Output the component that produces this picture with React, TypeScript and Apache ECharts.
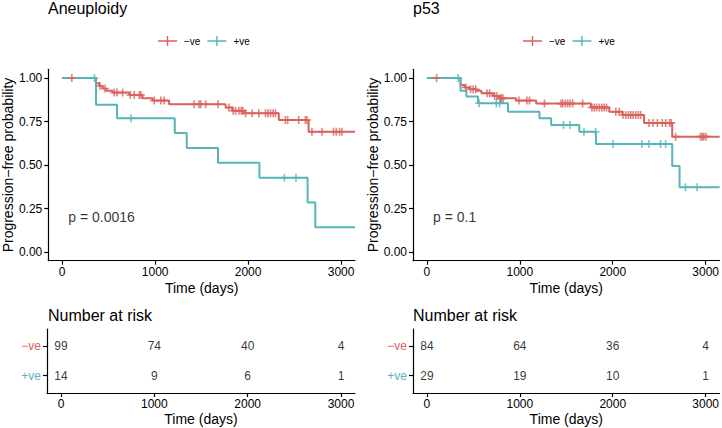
import React, { useEffect, useRef } from "react";
import * as echarts from "echarts";

// ---------- data ----------
const PANEL_TITLES = ["Aneuploidy", "p53"];
const GROUPS = ["−ve", "+ve"];
const P_VALUES = ["p = 0.0016", "p = 0.1"];

// Aneuploidy, -ve
const aneuNegTimes = [0, 364, 400, 436, 472, 543, 722, 865, 972, 1150, 1758, 1830, 1954, 2330, 2651];
const aneuNegSurv = [1, 0.97, 0.954, 0.94, 0.927, 0.916, 0.902, 0.883, 0.87, 0.849, 0.83, 0.812, 0.797, 0.759, 0.691];
const aneuNegCensor = [104, 405, 461, 561, 590, 650, 732, 775, 829, 847, 990, 1061, 1097, 1418, 1472, 1490, 1544, 1676, 1794, 1840, 1865, 1901, 1926, 1944, 1972, 2044, 2115, 2187, 2212, 2241, 2270, 2294, 2401, 2426, 2544, 2616, 2634, 2687, 2795, 2919, 2948, 2984, 3009];
// Aneuploidy, +ve
const aneuPosTimes = [0, 364, 590, 1211, 1340, 1676, 2122, 2640, 2723];
const aneuPosSurv = [1, 0.846, 0.769, 0.684, 0.598, 0.513, 0.427, 0.285, 0.142];
const aneuPosCensor = [347, 740, 2390, 2515];

// p53, -ve
const p53NegTimes = [0, 361, 407, 461, 532, 586, 711, 783, 961, 1175, 1765, 1962, 2104, 2337, 2640];
const p53NegSurv = [1, 0.96, 0.946, 0.935, 0.927, 0.912, 0.897, 0.883, 0.87, 0.853, 0.831, 0.806, 0.787, 0.742, 0.663];
const p53NegCensor = [104, 418, 470, 497, 525, 647, 675, 729, 754, 790, 801, 818, 990, 1076, 1104, 1265, 1444, 1462, 1490, 1515, 1540, 1569, 1676, 1776, 1801, 1826, 1855, 1883, 1908, 1933, 2033, 2069, 2110, 2140, 2169, 2194, 2219, 2248, 2276, 2301, 2391, 2433, 2480, 2533, 2570, 2612, 2630, 2677, 2945, 2962, 2980, 3005];
// p53, +ve
const p53PosTimes = [0, 361, 425, 550, 872, 1211, 1337, 1640, 1819, 2640, 2719];
const p53PosSurv = [1, 0.927, 0.893, 0.855, 0.806, 0.768, 0.73, 0.691, 0.62, 0.494, 0.372];
const p53PosCensor = [336, 561, 747, 783, 1470, 1540, 1690, 1815, 2004, 2312, 2390, 2515, 2569, 2783, 2908];

// number at risk
const riskTimes = [0, 1000, 2000, 3000];
const aneuNegRisk = [99, 74, 40, 4];
const aneuPosRisk = [14, 9, 6, 1];
const p53NegRisk = [84, 64, 36, 4];
const p53PosRisk = [29, 19, 10, 1];

// axis ticks
const xTicks = [0, 1000, 2000, 3000];
const yTicks = [0, 0.25, 0.5, 0.75, 1];

// ---------- styling ----------
const FONT = '"Liberation Sans", Arial, Helvetica, sans-serif';
const RED = "#D9625B";
const TEAL = "#55B5BA";
const X_MIN = -150;
const X_MAX = 3150;
const CROSS = "path://M-0.8,-4H0.8V-0.8H4V0.8H0.8V4H-0.8V0.8H-4V-0.8H-0.8Z";
const LEG_ICON = "path://M0,4.2H19V5.8H0Z M8.8,0H10.2V10H8.8Z";

function stepValue(times: number[], surv: number[], t: number) {
  let v = surv[0];
  for (let i = 0; i < times.length; i++) if (times[i] <= t) v = surv[i];
  return v;
}
function kmData(times: number[], surv: number[]) {
  const d = times.map((t, i) => [t, surv[i]]);
  d.push([X_MAX, surv[surv.length - 1]]);
  return d;
}

const axisLineStyle = { color: "#000", width: 1.2 };

function xAxisDef(gridIndex: number, nameGap: number) {
  return {
    type: "value",
    gridIndex,
    min: X_MIN,
    max: X_MAX,
    axisLine: { show: true, onZero: false, lineStyle: axisLineStyle },
    axisTick: { show: true, length: 4, customValues: xTicks, lineStyle: axisLineStyle },
    axisLabel: {
      customValues: xTicks,
      fontSize: 12,
      color: "#000",
      margin: 5,
      fontFamily: FONT,
      formatter: (v: number) => String(v),
    },
    splitLine: { show: false },
    name: "Time (days)",
    nameLocation: "middle",
    nameGap,
    nameTextStyle: { fontSize: 14, color: "#000", fontFamily: FONT },
  };
}
function yAxisKM(gridIndex: number) {
  return {
    type: "value",
    gridIndex,
    min: -0.05,
    max: 1.05,
    axisLine: { show: true, onZero: false, lineStyle: axisLineStyle },
    axisTick: { show: true, length: 4, customValues: yTicks, lineStyle: axisLineStyle },
    axisLabel: {
      customValues: yTicks,
      fontSize: 12,
      color: "#000",
      margin: 6,
      fontFamily: FONT,
      formatter: (v: number) => v.toFixed(2),
    },
    splitLine: { show: false },
    name: "Progression−free probability",
    nameLocation: "middle",
    nameGap: 26,
    nameTextStyle: { fontSize: 14, color: "#000", fontFamily: FONT },
  };
}
function yAxisRisk(gridIndex: number) {
  return {
    type: "value",
    gridIndex,
    min: 0.4,
    max: 2.6,
    axisLine: { show: true, onZero: false, lineStyle: axisLineStyle },
    axisTick: { show: true, length: 4, customValues: [1, 2], lineStyle: axisLineStyle },
    axisLabel: {
      customValues: [1, 2],
      margin: 6,
      formatter: (v: number) => (v === 2 ? "{neg|" + GROUPS[0] + "}" : "{pos|" + GROUPS[1] + "}"),
      rich: {
        neg: { color: RED, fontSize: 12, fontFamily: FONT },
        pos: { color: TEAL, fontSize: 12, fontFamily: FONT },
      },
    },
    splitLine: { show: false },
  };
}

function panelSeries(
  gi: number,
  negT: number[], negS: number[], negC: number[],
  posT: number[], posS: number[], posC: number[],
  pText: string,
  negRisk: number[], posRisk: number[]
) {
  const riskGi = gi + 2;
  return [
    {
      type: "line", name: GROUPS[0], xAxisIndex: gi, yAxisIndex: gi, step: "end",
      showSymbol: false, data: kmData(negT, negS),
      lineStyle: { color: RED, width: 2 }, itemStyle: { color: RED }, z: 2,
    },
    {
      type: "line", name: GROUPS[1], xAxisIndex: gi, yAxisIndex: gi, step: "end",
      showSymbol: false, data: kmData(posT, posS),
      lineStyle: { color: TEAL, width: 2 }, itemStyle: { color: TEAL }, z: 3,
    },
    {
      type: "scatter", xAxisIndex: gi, yAxisIndex: gi, symbol: CROSS, symbolSize: 8,
      data: negC.map((t) => [t, stepValue(negT, negS, t)]), itemStyle: { color: RED }, z: 4,
    },
    {
      type: "scatter", xAxisIndex: gi, yAxisIndex: gi, symbol: CROSS, symbolSize: 8,
      data: posC.map((t) => [t, stepValue(posT, posS, t)]), itemStyle: { color: TEAL }, z: 5,
    },
    {
      type: "scatter", xAxisIndex: gi, yAxisIndex: gi, symbolSize: 0, data: [[65, 0.2]],
      label: { show: true, position: "right", distance: 0, formatter: pText, fontSize: 14, color: "#000", fontFamily: FONT },
    },
    {
      type: "scatter", xAxisIndex: riskGi, yAxisIndex: riskGi, symbolSize: 0,
      data: riskTimes.map((t, i) => [t, 2, negRisk[i]]),
      label: { show: true, position: "inside", formatter: (p: any) => String(p.value[2]), fontSize: 12, color: "#000", fontFamily: FONT },
    },
    {
      type: "scatter", xAxisIndex: riskGi, yAxisIndex: riskGi, symbolSize: 0,
      data: riskTimes.map((t, i) => [t, 1, posRisk[i]]),
      label: { show: true, position: "inside", formatter: (p: any) => String(p.value[2]), fontSize: 12, color: "#000", fontFamily: FONT },
    },
  ];
}

function legendDef(left: number) {
  return {
    left,
    top: 36,
    padding: 0,
    itemWidth: 19,
    itemHeight: 10,
    itemGap: 7,
    selectedMode: false,
    icon: LEG_ICON,
    textStyle: { fontSize: 10, color: "#000", fontFamily: FONT, padding: [0, 0, 0, 2] },
    data: [
      { name: GROUPS[0], itemStyle: { color: RED } },
      { name: GROUPS[1], itemStyle: { color: TEAL } },
    ],
  };
}

function titleText(text: string, x: number, y: number) {
  return {
    type: "text",
    x,
    y,
    style: { text, fontSize: 16, fill: "#000", fontFamily: FONT, verticalAlign: "middle" },
  };
}

export default function App() {
  const ref = useRef<HTMLDivElement>(null);
  useEffect(() => {
    if (!ref.current) return;
    const chart = echarts.init(ref.current, undefined, { renderer: "svg" });
    const option = {
      animation: false,
      backgroundColor: "#fff",
      textStyle: { fontFamily: FONT },
      grid: [
        { left: 47, top: 69.3, width: 308, height: 191.4 },
        { left: 413, top: 69.3, width: 308, height: 191.4 },
        { left: 47, top: 329, width: 308, height: 64 },
        { left: 413, top: 329, width: 308, height: 64 },
      ],
      xAxis: [xAxisDef(0, 20), xAxisDef(1, 20), xAxisDef(2, 19), xAxisDef(3, 19)],
      yAxis: [yAxisKM(0), yAxisKM(1), yAxisRisk(2), yAxisRisk(3)],
      legend: [legendDef(158), legendDef(523)],
      graphic: [
        titleText(PANEL_TITLES[0], 48, 8),
        titleText(PANEL_TITLES[1], 413, 8),
        titleText("Number at risk", 48, 315),
        titleText("Number at risk", 413, 315),
      ],
      series: [
        ...panelSeries(0, aneuNegTimes, aneuNegSurv, aneuNegCensor, aneuPosTimes, aneuPosSurv, aneuPosCensor, P_VALUES[0], aneuNegRisk, aneuPosRisk),
        ...panelSeries(1, p53NegTimes, p53NegSurv, p53NegCensor, p53PosTimes, p53PosSurv, p53PosCensor, P_VALUES[1], p53NegRisk, p53PosRisk),
      ],
    };
    chart.setOption(option as any);
    return () => chart.dispose();
  }, []);
  return (
    <div
      ref={ref}
      style={{ position: "fixed", left: 0, top: 0, width: 722, height: 428, background: "#fff" }}
    />
  );
}
